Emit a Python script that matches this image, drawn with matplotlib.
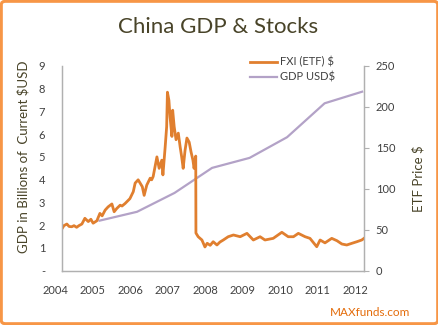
import matplotlib
matplotlib.use("Agg")
import matplotlib.pyplot as plt
import matplotlib.transforms as mtransforms
from matplotlib.patches import FancyBboxPatch

plt.rcParams['font.family'] = ['Lato', 'DejaVu Sans']

# GDP (left axis, trillions USD), one point per year
gdp_years = [2005, 2006, 2007, 2008, 2009, 2010, 2011, 2012]
gdp_vals = [2.2, 2.59, 3.42, 4.52, 4.96, 5.87, 7.36, 7.87]

# FXI ETF price (right axis)
fxi_dates = [2004.01, 2004.05, 2004.13, 2004.19, 2004.26, 2004.32, 2004.39, 2004.45,
             2004.53, 2004.61, 2004.70, 2004.77, 2004.83, 2004.93, 2005.01, 2005.07,
             2005.15, 2005.23, 2005.33, 2005.39, 2005.46, 2005.55, 2005.60, 2005.68,
             2005.81, 2005.90, 2005.95, 2006.03, 2006.14, 2006.19, 2006.26, 2006.35,
             2006.39, 2006.43, 2006.53, 2006.59, 2006.66, 2006.69, 2006.75, 2006.79,
             2006.81, 2006.85, 2006.88, 2006.93, 2006.95, 2006.99, 2007.04, 2007.10,
             2007.15, 2007.19, 2007.23, 2007.28, 2007.33, 2007.39, 2007.44, 2007.49,
             2007.52, 2007.565, 2007.57, 2007.63, 2007.73, 2007.81, 2007.87, 2007.95,
             2008.03, 2008.13, 2008.21, 2008.30, 2008.43, 2008.57, 2008.75, 2008.93,
             2009.10, 2009.28, 2009.41, 2009.63, 2009.86, 2010.03, 2010.17, 2010.30,
             2010.48, 2010.61, 2010.79, 2010.88, 2011.01, 2011.19, 2011.33, 2011.46,
             2011.59, 2011.73, 2011.86, 2011.99, 2012.05]
fxi_vals = [52, 55, 57, 54, 53.7, 55, 53, 55,
            57, 64, 60, 62.8, 58, 61, 70, 67,
            74, 78, 81.5, 72, 76, 80, 79, 82,
            88, 96.5, 107, 111, 102.6, 92, 104.6, 113,
            111, 115, 139, 125, 135, 117, 151, 176,
            218, 208, 188, 164, 196, 176, 160, 168,
            151, 139, 125, 147, 162, 157, 145, 135,
            125, 140, 46, 41.5, 37.5, 29, 33.5, 31,
            35.4, 31.4, 35, 37.5, 41.5, 43.6, 41.5, 45.6,
            37.5, 41.5, 37.5, 39.5, 46.9, 41.5, 41.5, 45.6,
            41.5, 39.5, 29.3, 37.5, 34, 39.5, 36.6, 32.6,
            31.4, 33.5, 35.4, 37.5, 39.5]

x_ticks = [2004, 2005, 2006, 2007, 2008, 2009, 2010, 2011, 2012]
gdp_ticks = list(range(0, 10))
gdp_tick_labels = ['-'] + [str(v) for v in range(1, 10)]
etf_ticks = [0, 50, 100, 150, 200, 250]

orange = '#E07F2F'
purple = '#B3A2C7'
text_dark = '#494429'
tick_col = '#404040'
axis_col = '#B0B0B0'

fig = plt.figure(figsize=(4.39, 3.25), dpi=100)
fig.patch.set_facecolor('white')

ax = fig.add_axes([62 / 439, 54.3 / 325, 302 / 439, 204.7 / 325])
ax2 = ax.twinx()

l_gdp, = ax.plot(gdp_years, gdp_vals, color=purple, lw=1.6, label='GDP USD$')
l_fxi, = ax2.plot(fxi_dates, fxi_vals, color=orange, lw=2.0, label='FXI (ETF) $')

ax.set_xlim(2004, 2012.05)
ax.set_ylim(0, 9)
ax2.set_ylim(0, 250)

ax.set_xticks(x_ticks)
ax.set_xticklabels([str(y) for y in x_ticks])
ax.set_yticks(gdp_ticks)
ax.set_yticklabels(gdp_tick_labels)
ax2.set_yticks(etf_ticks)

ax.tick_params(axis='x', length=0, pad=10, labelsize=8, labelcolor=tick_col)
ax.tick_params(axis='y', length=0, pad=12, labelsize=8, labelcolor=tick_col)
ax2.tick_params(axis='y', length=3.5, width=0.8, color=axis_col, pad=5,
                labelsize=8, labelcolor=tick_col)

# Excel puts the year labels a little left of the gridline positions
shift = mtransforms.ScaledTranslation(-7 / 100, 0, fig.dpi_scale_trans)
for lab in ax.get_xticklabels():
    lab.set_transform(lab.get_transform() + shift)

for a in (ax, ax2):
    a.spines['top'].set_visible(False)
    for s in ('left', 'right', 'bottom'):
        a.spines[s].set_color(axis_col)
        a.spines[s].set_linewidth(0.9)
    a.patch.set_visible(False)

fig.text(218 / 439, 1 - 27 / 325, 'China GDP & Stocks', ha='center', va='center',
         fontsize=16, color=text_dark)
fig.text(23 / 439, 1 - 157 / 325, 'GDP in Billions of  Current $USD', rotation=90,
         ha='center', va='center', fontsize=9.5, color=text_dark)
fig.text(418 / 439, 1 - 179 / 325, 'ETF Price $', rotation=90,
         ha='center', va='center', fontsize=9.5, color=text_dark)
fig.text(370 / 439, 1 - 312 / 325, 'MAXfunds.com', ha='center', va='center',
         fontsize=8.5, color='#E46C0A')

fig.legend(handles=[l_fxi, l_gdp], loc='upper left',
           bbox_to_anchor=(244 / 439, 1 - 51 / 325), frameon=False, fontsize=8,
           handlelength=2.5, handletextpad=0.25, borderpad=0, labelspacing=0.35,
           labelcolor=tick_col)

border = FancyBboxPatch((1.3 / 439, 1.3 / 325), 1 - 2.6 / 439, 1 - 2.6 / 325,
                        boxstyle='round,pad=0,rounding_size=0.01',
                        transform=fig.transFigure, fill=False,
                        edgecolor='#F79646', lw=2.2)
fig.patches.append(border)

fig.savefig('out.png', dpi=100)
